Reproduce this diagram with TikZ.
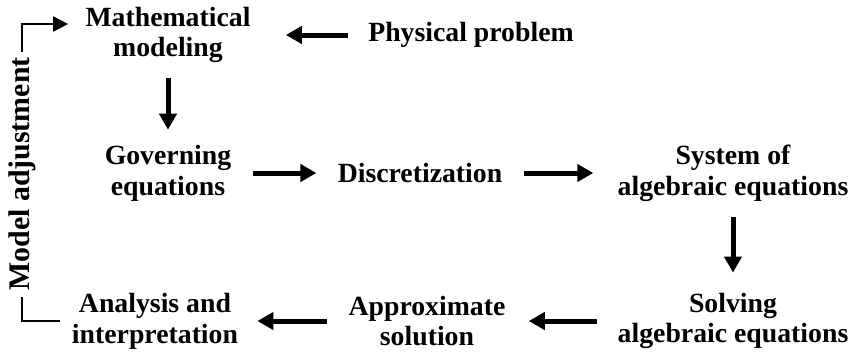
\documentclass[tikz,border=0pt]{standalone}
\usepackage{fontspec}
\setmainfont{Liberation Serif}
\usetikzlibrary{positioning, arrows.meta}

\begin{document}
\begin{tikzpicture}[
        every node/.style={font=\bfseries\fontsize{15.8}{17.5}\selectfont, align=center, inner sep=0pt},
        stage/.style={rectangle},
        flow/.style={-{Triangle[length=0.32cm, width=0.34cm]}, line width=1mm, shorten <=0.42cm, shorten >=0.42cm},
        vflow/.style={flow, shorten <=0.3cm, shorten >=0.3cm},
        feedback/.style={line width=0.4mm}
    ]
    \useasboundingbox (0,0) rectangle (17.16,-7.06);
%
    % Ligne 1 : modele
    \node[stage] (model) at (3.36,-0.70) {Mathematical\\modeling};
    \node[stage] (physical) at (9.42,-0.70) {Physical problem};
    \draw[flow, shorten >=0.7cm, shorten <=0.4cm] (physical.west) -- (model.east);
%
    % Ligne 2 : equations et discretisation
    \node[stage] (governing) at (3.36,-3.46) {Governing\\equations};
    \node[stage] (discrete) at (8.40,-3.46) {Discretization};
    \node[stage] (system) at (14.66,-3.46) {System of\\algebraic equations};
    \draw[vflow] (model.south) -- (governing.north);
    \draw[flow] (governing.east) -- (discrete.west);
    \draw[flow, shorten >=0.48cm] (discrete.east) -- (system.west);
%
    % Ligne 3 : resolution
    \node[stage] (solving) at (14.66,-6.42) {Solving\\algebraic equations};
    \node[stage] (approx) at (8.54,-6.42) {Approximate\\solution};
    \node[stage] (analysis) at (3.10,-6.42) {Analysis and\\interpretation};
    \draw[vflow, shorten >=0.4cm] (system.south) -- (solving.north);
    \draw[flow, shorten <=0.4cm, shorten >=0.46cm] (solving.west) -- (approx.east);
    \draw[flow, shorten >=0.38cm] (approx.west) -- (analysis.east);
%
    % Boucle d'ajustement
    \node[rotate=90, font=\bfseries\fontsize{17}{18}\selectfont] (adjust) at (0.44,-3.48) {Model adjustment};
    \draw[feedback, shorten <=0.24cm, shorten >=0.12cm] (analysis.west) -| (adjust.west);
    \draw[feedback, -{Triangle[length=0.3cm, width=0.3cm]}, shorten <=0.1cm, shorten >=0.34cm]
        (adjust.east) |- ([yshift=0.22cm]model.west);
%
\end{tikzpicture}
\end{document}
